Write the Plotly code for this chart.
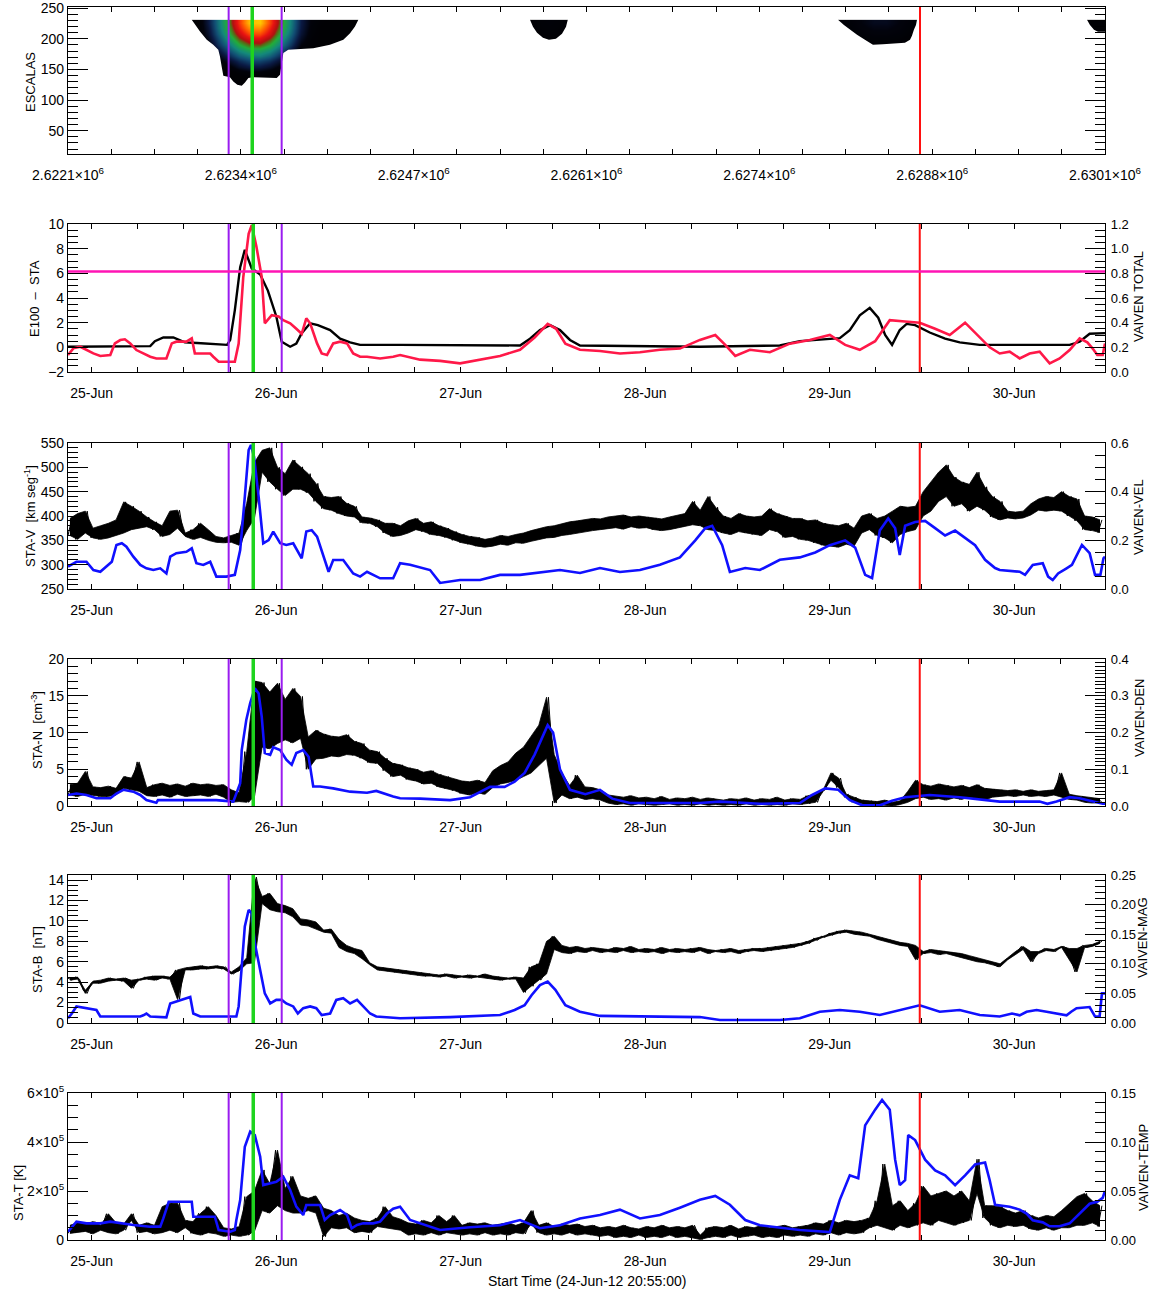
import numpy as np
import pandas as pd
import plotly.graph_objects as go

# ---------------------------------------------------------------- time base
START = pd.Timestamp("2012-06-24 20:55:00")
END_HOURS = 134.9
NOISY_STEP_H = 0.5

# event markers (hours after start) and their position on the scale-axis units
EVENT_HOURS = {"purple": [20.9, 27.8], "green": [24.1], "red": [110.8]}
EVENT_TOP = {"purple": [2623321, 2623730], "green": [2623503], "red": [2628657]}
E_THRESHOLD = 6.15

# ---------------------------------------------------------------- wavelet panel
TOP_X_RANGE = [2622081, 2630085]
TOP_X_TICKS = [2622081, 2623415, 2624749, 2626083, 2627417, 2628751, 2630085]
TOP_X_LABELS = ["2.6221×10<sup>6</sup>", "2.6234×10<sup>6</sup>", "2.6247×10<sup>6</sup>",
                "2.6261×10<sup>6</sup>", "2.6274×10<sup>6</sup>", "2.6288×10<sup>6</sup>",
                "2.6301×10<sup>6</sup>"]
SCALE_TOP = 231.0

BLOB1_X = [2623000, 2623080, 2623160, 2623240, 2623320, 2623400, 2623480, 2623560, 2623640,
           2623720, 2623800, 2623880, 2623960, 2624040, 2624120, 2624200, 2624280, 2624360]
BLOB1_S = [118.5, 127.5, 136.5, 145.5, 154.5, 163.5, 172.5, 181.5, 190.5, 199.5, 208.5, 217.5, 226.5]
_k = 0.03
BLOB1_P = [
    [_k] * 18,
    [_k] * 18,
    [_k] * 18,
    [_k, _k, _k, _k, _k, 0.06, 0.09, 0.09, 0.06, _k, _k, _k, _k, _k, _k, _k, _k, _k],
    [_k, _k, _k, _k, 0.07, 0.15, 0.19, 0.19, 0.15, 0.08, _k, _k, _k, _k, _k, _k, _k, _k],
    [_k, _k, _k, 0.05, 0.15, 0.23, 0.28, 0.28, 0.24, 0.16, 0.06, _k, _k, _k, _k, _k, _k, _k],
    [_k, _k, _k, 0.11, 0.23, 0.32, 0.37, 0.38, 0.33, 0.24, 0.13, _k, _k, _k, _k, _k, _k, _k],
    [_k, _k, _k, 0.18, 0.31, 0.41, 0.47, 0.47, 0.42, 0.32, 0.19, 0.05, _k, _k, _k, _k, _k, _k],
    [_k, _k, 0.08, 0.24, 0.37, 0.49, 0.56, 0.57, 0.50, 0.39, 0.25, 0.10, 0.04, _k, _k, _k, _k, _k],
    [_k, _k, 0.12, 0.28, 0.44, 0.57, 0.65, 0.66, 0.58, 0.45, 0.30, 0.14, 0.05, _k, _k, _k, _k, _k],
    [_k, _k, 0.15, 0.32, 0.49, 0.63, 0.74, 0.75, 0.65, 0.50, 0.34, 0.17, 0.06, _k, _k, _k, _k, _k],
    [_k, _k, 0.17, 0.35, 0.52, 0.69, 0.83, 0.84, 0.70, 0.54, 0.37, 0.19, 0.07, _k, _k, _k, _k, _k],
    [_k, _k, 0.19, 0.36, 0.54, 0.72, 0.89, 0.91, 0.74, 0.56, 0.38, 0.20, 0.08, 0.04, _k, _k, _k, _k],
]
BLOB2_X = [2625600, 2625700, 2625800, 2625900, 2626000]
BLOB2_S = [190.5, 199.5, 208.5, 217.5, 226.5]
BLOB2_P = [[0.03, 0.03, 0.03, 0.03, 0.03],
           [0.03, 0.03, 0.04, 0.03, 0.03],
           [0.03, 0.04, 0.05, 0.04, 0.03],
           [0.03, 0.05, 0.06, 0.05, 0.03],
           [0.03, 0.05, 0.07, 0.05, 0.03]]
BLOB3_X = [2628000, 2628100, 2628200, 2628300, 2628400, 2628500, 2628600, 2628700]
BLOB3_S = [181.5, 190.5, 199.5, 208.5, 217.5, 226.5]
BLOB3_P = [[0.03, 0.03, 0.03, 0.03, 0.03, 0.03, 0.03, 0.03],
           [0.03, 0.03, 0.04, 0.04, 0.04, 0.04, 0.03, 0.03],
           [0.03, 0.03, 0.05, 0.06, 0.06, 0.05, 0.03, 0.03],
           [0.03, 0.04, 0.07, 0.09, 0.09, 0.07, 0.04, 0.03],
           [0.03, 0.05, 0.09, 0.11, 0.11, 0.09, 0.05, 0.03],
           [0.03, 0.06, 0.10, 0.13, 0.13, 0.10, 0.06, 0.03]]
BLOB4_X = [2629950, 2630050, 2630150]
BLOB4_S = [208.5, 217.5, 226.5]
BLOB4_P = [[0.03, 0.03, 0.03], [0.03, 0.04, 0.04], [0.03, 0.04, 0.05]]

# lower edges of the significant regions (scale units), left to right
EDGE1_X = [2623036, 2623061, 2623100, 2623152, 2623202, 2623241, 2623254, 2623267, 2623280,
           2623331, 2623357, 2623388, 2623422, 2623447, 2623473, 2623509, 2623615, 2623692,
           2623717, 2623730, 2623743, 2623781, 2623872, 2623974, 2624103, 2624206, 2624258,
           2624296, 2624322]
EDGE1_S = [231.0, 222.8, 211.9, 198.4, 190.2, 182.1, 171.1, 154.8, 139.6, 137.5, 130.3, 125.0,
           123.3, 128.7, 135.9, 137.5, 136.9, 135.9, 141.3, 163.0, 176.7, 182.1, 183.7, 184.8,
           190.2, 198.4, 209.3, 220.1, 231.0]
EDGE2_X = [2625647, 2625670, 2625701, 2625747, 2625793, 2625847, 2625894, 2625925, 2625940]
EDGE2_S = [231.0, 219.6, 209.8, 201.6, 198.4, 200.0, 208.2, 219.6, 231.0]
EDGE3_X = [2628024, 2628070, 2628117, 2628171, 2628232, 2628294, 2628371, 2628464, 2628541,
           2628580, 2628595, 2628610, 2628626, 2628634]
EDGE3_S = [231.0, 222.8, 214.7, 206.5, 198.4, 190.2, 191.0, 191.8, 193.5, 198.4, 204.9, 214.7,
           222.8, 231.0]
EDGE4_X = [2629946, 2629969, 2630000, 2630031, 2630185]
EDGE4_S = [231.0, 222.8, 214.7, 211.4, 211.4]

# ---------------------------------------------------------------- E100 / VAIVEN TOTAL
E_HOURS = [0, 4.2, 10.7, 11.3, 12.4, 13.7, 15.2, 16.8, 20.7, 21.1, 21.7, 22.4, 23.0, 23.9, 25.0,
           26.0, 27.1, 27.8, 28.9, 29.7, 30.4, 31.5, 32.5, 34.1, 35.4, 36.7, 38.0, 43.2, 58.8,
           60.1, 61.4, 62.7, 64.0, 65.3, 66.6, 82.2, 92.6, 95.2, 97.8, 100.4, 101.7, 103.0,
           104.3, 105.4, 106.3, 107.2, 108.2, 109.1, 110.2, 112.1, 114.1, 116.0, 118.6, 130.3,
           131.6, 132.9, 134.9]
E_VALUES = [0.05, 0.05, 0.1, 0.5, 0.8, 0.8, 0.4, 0.35, 0.2, 0.6, 3.0, 6.5, 7.9, 6.4, 5.9, 4.6,
            2.5, 0.45, 0.05, 0.3, 1.15, 1.95, 1.8, 1.4, 0.7, 0.4, 0.2, 0.2, 0.15, 0.7, 1.4, 1.8,
            1.4, 0.6, 0.15, 0.05, 0.15, 0.5, 0.65, 0.75, 1.4, 2.6, 3.2, 2.4, 1.0, 0.2, 1.4, 1.9,
            1.8, 1.2, 0.7, 0.4, 0.2, 0.2, 0.45, 1.1, 1.15]
TOT_HOURS = [0.0, 0.7, 1.6, 2.4, 3.3, 4.2, 5.5, 6.1, 6.8, 7.4, 8.1, 8.9, 9.8, 10.7, 11.5, 12.8,
             13.5, 14.1, 15.4, 16.1, 16.5, 18.5, 18.9, 19.6, 21.7, 22.2, 22.8, 23.5, 23.9, 24.5,
             25.2, 25.6, 26.5, 27.4, 28.0, 28.9, 29.7, 30.4, 31.0, 31.5, 32.4, 33.0, 33.7, 34.5,
             35.4, 36.3, 37.1, 38.0, 38.9, 40.6, 42.3, 43.2, 45.8, 48.4, 51.0, 53.6, 56.2, 58.8,
             60.7, 62.4, 63.5, 64.7, 66.6, 69.2, 71.8, 74.4, 77.0, 79.6, 82.2, 84.2, 85.5, 86.8,
             88.7, 91.3, 93.9, 96.5, 99.1, 101.1, 103.0, 105.0, 106.9, 108.9, 110.8, 112.8,
             114.7, 116.7, 118.0, 119.9, 121.2, 122.5, 123.8, 125.1, 126.4, 127.7, 129.0, 130.3,
             131.6, 132.6, 133.3, 133.9, 134.6, 134.9]
TOT_VALUES = [0.138, 0.192, 0.205, 0.178, 0.151, 0.13, 0.138, 0.232, 0.259, 0.265,
              0.232, 0.178, 0.151, 0.124, 0.11, 0.11, 0.232, 0.246, 0.246, 0.273,
              0.151, 0.15, 0.124, 0.083, 0.083, 0.23, 0.77, 1.12, 1.19, 1.02,
              0.77, 0.395, 0.46, 0.45, 0.42, 0.395, 0.35, 0.31, 0.435, 0.395,
              0.232, 0.151, 0.138, 0.232, 0.246, 0.232, 0.151, 0.124, 0.124, 0.11,
              0.124, 0.138, 0.10, 0.09, 0.07, 0.10, 0.13, 0.18, 0.28, 0.39,
              0.35, 0.23, 0.18, 0.17, 0.15, 0.16, 0.18, 0.19, 0.26, 0.30,
              0.22, 0.13, 0.18, 0.16, 0.23, 0.26, 0.30, 0.22, 0.18, 0.25,
              0.42, 0.41, 0.40, 0.35, 0.30, 0.40, 0.32, 0.20, 0.15, 0.165,
              0.11, 0.15, 0.165, 0.07, 0.11, 0.178, 0.273, 0.24, 0.19, 0.138,
              0.138, 0.232]

# ---------------------------------------------------------------- velocity
V_KMS = [360, 395, 352, 405, 365, 410, 355, 375, 352, 380,
         355, 385, 360, 392, 365, 429, 372, 420, 375, 410,
         378, 398, 372, 388, 358, 380, 362, 410, 375, 412,
         365, 358, 372, 352, 385, 356, 372, 350, 358, 346,
         355, 345, 360, 346, 365, 340, 370, 426, 395, 510,
         490, 535, 470, 540, 455, 500, 442, 487, 455, 515,
         455, 501, 448, 487, 430, 467, 415, 440, 412, 438,
         405, 440, 400, 426, 398, 420, 386, 398, 385, 396,
         378, 392, 365, 385, 358, 385, 360, 380, 365, 390,
         372, 395, 368, 385, 362, 388, 360, 380, 356, 375,
         350, 368, 345, 362, 342, 358, 338, 356, 336, 352,
         338, 355, 342, 360, 340, 358, 345, 362, 344, 365,
         348, 370, 352, 374, 355, 378, 356, 380, 360, 384,
         362, 388, 365, 390, 368, 392, 370, 395, 372, 394,
         374, 398, 376, 400, 373, 402, 378, 398, 375, 400,
         376, 398, 372, 396, 370, 394, 372, 398, 375, 402,
         378, 405, 382, 430, 380, 412, 372, 440, 370, 418,
         365, 400, 362, 395, 368, 405, 365, 400, 362, 398,
         360, 400, 372, 415, 368, 405, 356, 400, 358, 395,
         352, 395, 350, 390, 345, 392, 340, 385, 338, 382,
         336, 380, 342, 385, 338, 375, 365, 400, 372, 405,
         360, 395, 355, 400, 345, 410, 362, 420, 368, 418,
         372, 420, 400, 450, 410, 470, 430, 490, 440, 505,
         420, 480, 425, 470, 410, 465, 420, 490, 412, 460,
         398, 440, 392, 430, 396, 410, 394, 408, 396, 410,
         402, 425, 412, 435, 410, 440, 412, 438, 410, 450,
         400, 440, 390, 435, 372, 400, 370, 398, 366, 392]
VEL_HOURS = [0.0, 1.1, 2.4, 3.3, 4.2, 5.0, 5.7, 6.3, 7.0, 7.6,
             8.5, 9.4, 10.2, 11.1, 12.0, 12.8, 13.3, 14.1, 15.4, 16.1,
             16.7, 17.6, 18.5, 19.3, 20.6, 21.7, 22.4, 23.0, 23.5, 23.8,
             24.2, 24.8, 25.4, 26.1, 26.7, 27.6, 28.4, 29.3, 30.4, 31.0,
             31.7, 32.4, 33.2, 33.9, 34.5, 35.8, 37.1, 38.0, 38.9, 40.6,
             42.3, 43.2, 44.5, 47.1, 48.4, 51.0, 53.6, 56.2, 58.8, 64.0,
             66.6, 69.2, 71.8, 74.4, 77.0, 79.6, 81.6, 82.9, 83.8, 85.1,
             86.1, 88.1, 90.0, 92.6, 95.2, 97.2, 99.1, 101.1, 102.4, 103.7,
             104.6, 105.6, 106.7, 107.6, 108.2, 108.9, 110.2, 111.5, 112.8, 114.1,
             115.4, 116.7, 118.0, 119.3, 120.6, 121.2, 123.8, 124.5, 125.5, 126.8,
             127.5, 128.1, 128.8, 129.9, 130.6, 131.9, 132.9, 133.6, 134.3, 134.7,
             134.9]
VEL_VALUES = [0.092, 0.112, 0.112, 0.078, 0.071, 0.092, 0.112, 0.181, 0.188, 0.174,
              0.133, 0.099, 0.085, 0.078, 0.085, 0.064, 0.133, 0.147, 0.153, 0.167,
              0.106, 0.099, 0.112, 0.051, 0.051, 0.058, 0.160, 0.379, 0.571, 0.592,
              0.544, 0.379, 0.188, 0.201, 0.236, 0.188, 0.181, 0.188, 0.126, 0.236,
              0.242, 0.215, 0.133, 0.071, 0.119, 0.119, 0.064, 0.051, 0.071, 0.044,
              0.044, 0.106, 0.10, 0.078, 0.025, 0.037, 0.037, 0.058, 0.058, 0.078,
              0.066, 0.086, 0.07, 0.078, 0.10, 0.13, 0.20, 0.25, 0.26, 0.18,
              0.07, 0.086, 0.078, 0.12, 0.13, 0.15, 0.18, 0.20, 0.17, 0.058,
              0.045, 0.24, 0.29, 0.25, 0.14, 0.26, 0.275, 0.28, 0.25, 0.22,
              0.24, 0.21, 0.18, 0.12, 0.086, 0.078, 0.071, 0.058, 0.099, 0.106,
              0.051, 0.037, 0.064, 0.085, 0.099, 0.181, 0.147, 0.058, 0.058, 0.126,
              0.133]

# ---------------------------------------------------------------- density
N_CM3 = [1.5, 2.9, 1.3, 3.1, 1.6, 4.7, 1.4, 2.6, 1.3, 2.5,
         1.3, 2.7, 1.5, 2.4, 2.4, 4.0, 2.2, 3.8, 6.0, 2.0,
         2.5, 1.4, 2.9, 1.3, 3.1, 1.5, 2.8, 1.2, 3.0, 1.6,
         2.7, 1.3, 3.1, 1.4, 2.9, 1.5, 3.0, 1.3, 2.8, 1.6,
         2.9, 1.2, 2.2, 0.5, 1.8, 0.6, 7.4, 0.5, 1.2, 17.0,
         8.0, 16.8, 7.8, 15.5, 8.5, 16.7, 9.0, 14.5, 8.6, 16.0,
         9.2, 14.9, 5.0, 9.4, 6.4, 10.3, 6.5, 9.8, 6.8, 9.5,
         6.7, 9.4, 7.0, 9.7, 6.9, 8.8, 6.5, 8.5, 5.9, 7.6,
         5.8, 7.4, 4.8, 6.5, 4.0, 5.8, 4.2, 5.6, 3.6, 5.2,
         3.4, 5.0, 3.0, 4.6, 3.1, 4.8, 2.6, 4.3, 2.4, 4.0,
         2.1, 3.6, 1.7, 3.4, 1.5, 3.3, 1.8, 3.5, 1.6, 3.2,
         2.5, 4.8, 3.0, 5.5, 3.2, 6.0, 3.5, 7.2, 4.0, 8.0,
         4.5, 9.5, 5.5, 11.0, 6.5, 14.8, 7.0, 0.4, 4.5, 1.5,
         2.8, 1.0, 4.2, 1.2, 2.6, 0.9, 2.5, 1.0, 2.2, 0.8,
         1.5, 0.4, 1.3, 0.2, 1.2, 0.3, 1.4, 0.1, 1.1, 0.3,
         1.2, 0.2, 1.0, 0.1, 1.3, 0.2, 0.9, 0.3, 1.1, 0.1,
         1.0, 0.2, 1.2, 0.1, 0.9, 0.3, 1.1, 0.1, 1.0, 0.2,
         0.8, 0.1, 1.0, 0.2, 0.9, 0.1, 1.1, 0.3, 0.8, 0.1,
         1.0, 0.2, 0.9, 0.1, 1.2, 0.2, 0.8, 0.1, 1.0, 0.3,
         0.9, 0.2, 1.4, 0.3, 1.6, 0.5, 2.0, 2.2, 3.5, 4.5,
         2.5, 3.8, 1.2, 1.6, 0.5, 1.2, 0.3, 0.8, 0.1, 0.7,
         0.2, 0.6, 0.1, 0.8, 0.0, 0.5, 0.2, 0.7, 0.5, 2.0,
         1.0, 3.5, 1.2, 2.9, 0.9, 2.7, 1.0, 3.0, 0.8, 2.8,
         1.1, 2.6, 0.9, 2.8, 1.2, 2.5, 1.0, 2.9, 0.8, 2.4,
         1.2, 2.3, 1.3, 2.2, 1.4, 2.1, 1.3, 2.2, 1.5, 2.0,
         1.3, 2.2, 1.4, 2.0, 1.3, 2.1, 1.5, 2.2, 4.5, 1.2,
         1.6, 0.9, 1.4, 0.8, 1.3, 0.5, 1.1, 0.4, 1.0, 0.5]
DEN_HOURS = [0.0, 1.1, 2.4, 3.7, 5.5, 6.3, 7.2, 8.5, 9.4, 10.2,
             11.5, 11.7, 12.8, 19.3, 21.5, 21.9, 22.4, 22.6, 23.2, 23.7,
             24.3, 24.8, 25.2, 25.6, 26.3, 26.7, 27.6, 28.4, 29.1, 29.7,
             30.6, 31.3, 31.9, 32.8, 34.5, 36.7, 38.9, 40.1, 41.0, 42.3,
             43.2, 45.8, 49.7, 52.3, 54.9, 56.8, 58.1, 59.4, 60.7, 61.7,
             62.4, 63.1, 64.0, 65.3, 67.3, 69.2, 70.8, 73.1, 82.2, 84.8,
             90.0, 95.2, 96.8, 98.5, 100.2, 101.7, 103.3, 105.6, 107.2, 108.9,
             112.1, 116.0, 121.2, 126.4, 127.4, 128.6, 130.3, 131.6, 132.6, 133.9,
             134.6, 134.9]
DEN_VALUES = [0.030, 0.034, 0.030, 0.021, 0.021, 0.034, 0.044, 0.039, 0.030, 0.016,
              0.009, 0.016, 0.016, 0.016, 0.012, 0.034, 0.062, 0.152, 0.235, 0.28,
              0.32, 0.306, 0.243, 0.144, 0.139, 0.16, 0.152, 0.126, 0.112, 0.144,
              0.152, 0.134, 0.053, 0.053, 0.048, 0.039, 0.036, 0.041, 0.034, 0.026,
              0.021, 0.02, 0.016, 0.024, 0.052, 0.052, 0.066, 0.09, 0.14, 0.19,
              0.22, 0.20, 0.10, 0.044, 0.032, 0.044, 0.02, 0.008, 0.008, 0.012,
              0.006, 0.008, 0.03, 0.048, 0.044, 0.016, 0.002, 0.002, 0.014, 0.024,
              0.03, 0.024, 0.012, 0.012, 0.006, 0.012, 0.024, 0.021, 0.016, 0.008,
              0.006, 0.006]

# ---------------------------------------------------------------- magnetic field
B_NT = [4.4, 4.2, 4.5, 4.3, 3.2, 2.9, 3.9, 4.1, 3.9, 4.2,
        4.1, 4.4, 4.2, 4.3, 4.1, 4.4, 4.2, 3.4, 4.3, 4.2,
        4.5, 4.3, 4.6, 4.2, 4.4, 4.6, 4.3, 4.5, 5.2, 2.3,
        5.2, 5.4, 5.2, 5.5, 5.3, 5.6, 5.3, 5.5, 5.4, 5.6,
        5.3, 5.5, 5.0, 4.8, 5.1, 5.5, 5.8, 6.4, 5.9, 14.3,
        12.4, 11.7, 12.7, 11.1, 11.7, 10.9, 11.5, 10.8, 11.2, 10.4,
        10.2, 9.6, 10.1, 9.5, 9.9, 9.2, 9.1, 8.9, 9.2, 8.8,
        8.2, 7.4, 7.6, 7.0, 7.3, 6.8, 7.1, 6.3, 5.9, 5.7,
        5.5, 5.2, 5.4, 5.1, 5.3, 5.0, 5.2, 4.9, 5.1, 4.8,
        5.0, 4.7, 4.9, 4.6, 4.8, 4.6, 4.7, 4.5, 4.8, 4.6,
        4.7, 4.4, 4.6, 4.5, 4.7, 4.4, 4.6, 4.5, 4.8, 4.4,
        4.6, 4.3, 4.5, 4.2, 4.4, 4.3, 4.5, 4.3, 4.4, 3.0,
        5.5, 3.6, 5.8, 4.2, 4.8, 8.0, 8.5, 7.2, 7.6, 6.9,
        7.4, 6.8, 7.5, 7.0, 7.3, 6.9, 7.4, 7.1, 7.3, 6.9,
        7.2, 7.0, 7.4, 6.9, 7.3, 7.1, 7.5, 6.9, 7.2, 7.0,
        7.3, 6.9, 7.2, 7.0, 7.4, 6.8, 7.2, 7.0, 7.3, 6.9,
        7.2, 7.0, 7.3, 6.9, 7.4, 7.1, 7.2, 6.8, 7.1, 7.0,
        7.2, 6.9, 7.3, 7.0, 7.1, 6.8, 7.2, 7.0, 7.3, 7.1,
        7.3, 7.0, 7.4, 7.1, 7.5, 7.2, 7.6, 7.3, 7.7, 7.4,
        7.8, 7.6, 8.0, 7.8, 8.3, 8.1, 8.5, 8.4, 8.8, 8.6,
        9.0, 8.8, 9.1, 8.9, 9.0, 8.7, 8.9, 8.6, 8.7, 8.5,
        8.5, 8.2, 8.3, 8.0, 8.1, 7.8, 7.9, 7.6, 7.8, 7.5,
        7.6, 6.2, 7.0, 6.8, 7.2, 6.9, 7.1, 6.7, 7.0, 6.8,
        6.9, 6.6, 6.8, 6.4, 6.6, 6.2, 6.4, 6.0, 6.2, 5.9,
        6.0, 5.7, 5.5, 5.8, 6.2, 6.4, 6.7, 7.0, 7.5, 7.2,
        7.0, 6.0, 6.8, 7.0, 7.3, 7.1, 7.2, 7.0, 7.4, 7.5,
        7.3, 6.2, 5.0, 7.3, 7.6, 7.4, 7.5, 7.7, 7.8, 8.0]
MAG_HOURS = [0.0, 0.5, 1.1, 2.4, 3.7, 4.2, 9.4, 9.8, 10.2, 10.7,
             12.8, 13.3, 14.6, 15.9, 16.3, 17.2, 21.9, 22.2, 22.6, 23.0,
             23.5, 23.9, 24.3, 25.0, 25.6, 26.3, 27.1, 27.8, 28.4, 29.3,
             29.9, 30.6, 31.5, 32.3, 33.0, 34.1, 34.9, 35.8, 36.7, 37.6,
             38.4, 39.3, 40.1, 43.2, 49.7, 56.2, 58.1, 59.4, 60.3, 61.4,
             62.4, 63.4, 64.7, 66.6, 69.2, 82.2, 84.8, 92.6, 95.2, 97.8,
             100.4, 103.0, 105.6, 108.2, 110.8, 113.4, 116.0, 118.6, 121.2, 122.8,
             123.8, 124.7, 126.0, 127.3, 128.6, 129.9, 130.5, 131.2, 132.9, 133.6,
             134.2, 134.5, 134.9]
MAG_VALUES = [0.008, 0.016, 0.028, 0.025, 0.022, 0.011, 0.011, 0.013, 0.016, 0.011,
              0.0096, 0.033, 0.039, 0.044, 0.016, 0.011, 0.011, 0.028, 0.095, 0.163,
              0.191, 0.185, 0.135, 0.09, 0.05, 0.033, 0.039, 0.039, 0.033, 0.028,
              0.016, 0.025, 0.028, 0.025, 0.0135, 0.016, 0.039, 0.042, 0.033, 0.039,
              0.028, 0.016, 0.011, 0.008, 0.01, 0.0135, 0.022, 0.03, 0.047, 0.064,
              0.07, 0.056, 0.03, 0.019, 0.012, 0.01, 0.005, 0.005, 0.008, 0.019,
              0.022, 0.019, 0.0135, 0.022, 0.03, 0.019, 0.022, 0.0135, 0.011, 0.016,
              0.013, 0.019, 0.022, 0.019, 0.016, 0.013, 0.019, 0.025, 0.027, 0.011,
              0.011, 0.05, 0.05]

# ---------------------------------------------------------------- temperature (1e5 K)
T_E5K = [0.27, 0.6, 0.3, 0.7, 0.35, 0.65, 0.25, 0.75, 0.4, 0.6,
         1.07, 0.3, 0.7, 0.25, 0.65, 0.4, 0.8, 1.07, 0.3, 0.6,
         0.35, 0.7, 0.25, 0.6, 0.3, 1.36, 0.4, 1.5, 0.3, 1.5,
         0.5, 0.8, 0.27, 0.75, 1.09, 0.2, 1.36, 0.3, 1.0, 0.25,
         0.5, 0.15, 0.45, 0.2, 0.54, 0.15, 1.77, 0.2, 0.35, 2.0,
         1.2, 2.86, 1.1, 2.3, 3.67, 1.4, 2.1, 1.2, 2.6, 1.1,
         1.8, 1.1, 1.7, 1.2, 1.8, 1.1, 1.3, 0.14, 1.2, 0.5,
         1.0, 0.45, 1.09, 0.5, 0.9, 0.3, 0.8, 0.35, 0.75, 0.3,
         0.9, 0.55, 1.36, 0.5, 0.95, 0.45, 0.85, 0.4, 0.7, 0.2,
         0.65, 0.25, 0.8, 0.2, 0.7, 0.3, 1.0, 0.2, 0.75, 0.3,
         1.0, 0.25, 0.6, 0.2, 0.7, 0.25, 0.65, 0.2, 0.7, 0.3,
         0.6, 0.2, 0.65, 0.25, 0.7, 0.2, 0.6, 0.3, 0.7, 0.25,
         0.65, 1.2, 0.3, 0.6, 0.2, 0.7, 0.25, 0.55, 0.2, 0.65,
         0.3, 0.6, 0.2, 0.65, 0.25, 0.55, 0.2, 0.6, 0.15, 0.5,
         0.2, 0.55, 0.1, 0.5, 0.15, 0.6, 0.1, 0.5, 0.2, 0.45,
         0.1, 0.55, 0.15, 0.5, 0.1, 0.6, 0.2, 0.5, 0.1, 0.55,
         0.15, 0.5, 0.1, 0.6, 0.2, 0.02, 0.5, 0.1, 0.55, 0.15,
         0.5, 0.1, 0.6, 0.2, 0.45, 0.1, 0.55, 0.15, 0.5, 0.2,
         0.6, 0.1, 0.5, 0.15, 0.55, 0.1, 0.6, 0.2, 0.5, 0.15,
         0.55, 0.2, 0.6, 0.15, 0.7, 0.25, 0.65, 0.2, 0.8, 0.3,
         0.7, 0.2, 0.8, 0.3, 0.75, 0.25, 0.8, 0.3, 0.9, 0.5,
         1.6, 0.6, 3.1, 0.5, 1.4, 0.4, 1.6, 0.6, 1.2, 0.5,
         1.5, 0.6, 2.2, 0.7, 1.8, 0.6, 1.9, 0.8, 2.0, 0.7,
         1.8, 0.6, 2.0, 0.7, 1.6, 0.8, 1.9, 3.3, 0.9, 1.4,
         0.6, 1.4, 0.5, 1.36, 0.6, 1.2, 0.55, 1.1, 0.6, 1.2,
         0.45, 1.0, 0.4, 0.9, 0.5, 1.0, 0.4, 0.95, 0.5, 1.2,
         0.5, 1.5, 0.6, 1.77, 0.6, 1.9, 0.7, 1.6, 0.55, 1.4]
TEMP_HOURS = [0.0, 0.5, 1.1, 2.4, 4.2, 5.5, 6.8, 8.5, 10.7, 12.0,
              12.4, 13.1, 16.1, 16.3, 19.1, 19.6, 21.1, 21.7, 21.9, 22.4,
              23.0, 23.7, 24.3, 25.0, 25.4, 26.3, 27.1, 28.0, 28.9, 29.7,
              30.6, 31.0, 32.8, 33.4, 34.1, 35.4, 36.3, 36.9, 37.6, 38.4,
              39.7, 40.6, 41.5, 42.3, 43.2, 44.5, 48.4, 52.3, 56.2, 58.8,
              61.4, 64.0, 66.6, 69.2, 71.8, 74.4, 77.0, 79.6, 82.2, 84.2,
              86.1, 88.1, 90.0, 95.2, 99.1, 100.4, 101.7, 102.8, 103.7, 105.0,
              105.9, 106.9, 107.6, 108.2, 108.9, 109.3, 110.2, 111.5, 112.8, 114.1,
              115.4, 116.7, 118.0, 119.3, 119.9, 120.6, 122.5, 123.8, 124.7, 125.5,
              126.8, 127.7, 129.0, 130.3, 131.2, 132.0, 132.9, 133.9, 134.6, 134.9]
TEMP_VALUES = [0.0085, 0.0136, 0.0187, 0.017, 0.017, 0.0187, 0.017, 0.0153, 0.0136, 0.0136,
               0.022, 0.039, 0.039, 0.0238, 0.0238, 0.0102, 0.0085, 0.0102, 0.0204, 0.0408,
               0.0952, 0.1105, 0.107, 0.085, 0.056, 0.058, 0.0595, 0.0646, 0.051, 0.034,
               0.0255, 0.0357, 0.0357, 0.0204, 0.0255, 0.0306, 0.0255, 0.0119, 0.0153, 0.017,
               0.017, 0.0187, 0.027, 0.032, 0.034, 0.0204, 0.0102, 0.013, 0.015, 0.0204,
               0.012, 0.015, 0.022, 0.0255, 0.031, 0.022, 0.0255, 0.033, 0.041, 0.045,
               0.036, 0.0204, 0.015, 0.0102, 0.008, 0.041, 0.066, 0.063, 0.117, 0.133,
               0.143, 0.133, 0.082, 0.056, 0.061, 0.107, 0.102, 0.082, 0.071, 0.066,
               0.056, 0.066, 0.077, 0.079, 0.061, 0.036, 0.034, 0.031, 0.027, 0.02,
               0.018, 0.014, 0.014, 0.017, 0.024, 0.031, 0.037, 0.039, 0.043, 0.05]

# ================================================================ figure
W, H = 1151, 1291
FONT = "Liberation Sans"
PX_LEFT, PX_RIGHT = 68, 1105
PANEL_PX = [(7, 154), (224, 372), (443, 589), (659, 806), (875, 1023), (1093, 1240)]
XDOM = [PX_LEFT / W, PX_RIGHT / W]
COL = {"purple": "#9a1cf0", "green": "#1ed41e", "red": "#ff1010"}
EVENT_W = {"purple": 2, "green": 3.5, "red": 2}
BLUE = "#1010ff"
CRIMSON = "#ff1848"
MAGENTA = "#ff14b4"

POWER_SCALE = [[0.0, "#000000"], [0.10, "#02030c"], [0.20, "#0b1a44"], [0.30, "#124e74"],
               [0.40, "#14887c"], [0.50, "#22ac3a"], [0.56, "#5a6a14"], [0.60, "#b01010"],
               [0.68, "#e81212"], [0.77, "#ff5a00"], [0.86, "#ffa400"], [0.95, "#ffe400"],
               [1.0, "#fff000"]]


def ydom(top, bot):
    return [1 - bot / H, 1 - top / H]


def at_hours(hours):
    return START + pd.to_timedelta(np.asarray(hours, dtype=float), unit="h")


def noisy_times(values):
    return at_hours(np.arange(len(values)) * NOISY_STEP_H)


END = START + pd.Timedelta(hours=END_HOURS)
fig = go.Figure()

# ---- panel 1: scalogram
for bx, bs, bp in [(BLOB1_X, BLOB1_S, BLOB1_P), (BLOB2_X, BLOB2_S, BLOB2_P),
                   (BLOB3_X, BLOB3_S, BLOB3_P), (BLOB4_X, BLOB4_S, BLOB4_P)]:
    fig.add_trace(go.Heatmap(x=bx, y=bs, z=bp, zmin=0, zmax=1, colorscale=POWER_SCALE,
                             zsmooth="best", showscale=False, hoverinfo="skip",
                             xaxis="x", yaxis="y"))

# white cover outside the significant regions; its top runs a little above the
# heatmap edge so no seam shows between the regions
SEAM = SCALE_TOP + 1.5
mask_x, mask_y = [TOP_X_RANGE[0] - 100], [SEAM]
for ex, es in [(EDGE1_X, EDGE1_S), (EDGE2_X, EDGE2_S), (EDGE3_X, EDGE3_S), (EDGE4_X, EDGE4_S)]:
    mask_x += [ex[0]] + ex
    mask_y += [SEAM] + es
    if es[-1] >= SCALE_TOP:
        mask_x.append(ex[-1])
        mask_y.append(SEAM)
mask_x += [TOP_X_RANGE[1] + 100, TOP_X_RANGE[1] + 100, TOP_X_RANGE[0] - 100]
mask_y += [EDGE4_S[-1], 0, 0]
fig.add_trace(go.Scatter(x=mask_x, y=mask_y, mode="lines", fill="toself", fillcolor="white",
                         line=dict(width=0, color="white"), hoverinfo="skip",
                         xaxis="x", yaxis="y"))


def add_noisy(values, scale, k, yl, lw):
    """High-rate record: min/max band of each sample pair plus the raw trace."""
    v = np.asarray(values, dtype=float) * scale
    pairs = v[: len(v) // 2 * 2].reshape(-1, 2)
    tc = at_hours((np.arange(len(pairs)) * 2 + 0.5) * NOISY_STEP_H)
    fig.add_trace(go.Scatter(x=tc, y=pairs.max(axis=1), mode="lines",
                             line=dict(color="black", width=0.8),
                             xaxis=f"x{k}", yaxis=f"y{yl}", hoverinfo="skip"))
    fig.add_trace(go.Scatter(x=tc, y=pairs.min(axis=1), mode="lines", fill="tonexty",
                             fillcolor="black", line=dict(color="black", width=0.8),
                             xaxis=f"x{k}", yaxis=f"y{yl}", hoverinfo="skip"))
    fig.add_trace(go.Scatter(x=noisy_times(values), y=v, mode="lines",
                             line=dict(color="black", width=lw),
                             xaxis=f"x{k}", yaxis=f"y{yl}", hoverinfo="skip"))


# ---- panel 2: smooth E100 + VAIVEN TOTAL
fig.add_trace(go.Scatter(x=at_hours(E_HOURS), y=E_VALUES, mode="lines",
                         line=dict(color="black", width=2.4), xaxis="x2", yaxis="y2",
                         hoverinfo="skip"))
fig.add_trace(go.Scatter(x=at_hours(TOT_HOURS), y=TOT_VALUES, mode="lines",
                         line=dict(color=CRIMSON, width=2.6), xaxis="x2", yaxis="y3",
                         hoverinfo="skip"))

# ---- panels 3..6: noisy plasma record + VAIVEN index
noisy = [(V_KMS, 1.0, VEL_HOURS, VEL_VALUES), (N_CM3, 1.0, DEN_HOURS, DEN_VALUES),
         (B_NT, 1.0, MAG_HOURS, MAG_VALUES), (T_E5K, 1e5, TEMP_HOURS, TEMP_VALUES)]
for i, (vals, sc, rh, rv) in enumerate(noisy):
    k = i + 3
    yl, yr = 2 * k - 2, 2 * k - 1
    add_noisy(vals, sc, k, yl, 1.0)
    fig.add_trace(go.Scatter(x=at_hours(rh), y=rv, mode="lines", line=dict(color=BLUE, width=2.6),
                             xaxis=f"x{k}", yaxis=f"y{yr}", hoverinfo="skip"))

# ---- axes
TICKFONT = dict(family=FONT, size=14, color="black")
RIGHT_TICKFONT = dict(family=FONT, size=13, color="black")


def ax(**kw):
    base = dict(showgrid=False, zeroline=False, showline=True, linecolor="black",
                linewidth=1.2, ticks="inside", tickcolor="black", tickwidth=1,
                tickfont=TICKFONT, automargin=False)
    base.update(kw)
    return base


layout = dict(
    width=W, height=H, margin=dict(l=0, r=0, t=0, b=0, pad=0, autoexpand=False),
    showlegend=False, paper_bgcolor="white", plot_bgcolor="white",
    font=dict(family=FONT, size=14, color="black"),
)
layout["xaxis"] = ax(domain=XDOM, anchor="y", range=TOP_X_RANGE, tickvals=TOP_X_TICKS,
                     ticktext=TOP_X_LABELS, ticklen=5, mirror="ticks", ticklabelstandoff=8,
                     tickfont=dict(family=FONT, size=14, color="black"),
                     minor=dict(tick0=TOP_X_RANGE[0], dtick=333.5, ticks="inside",
                                ticklen=5, tickcolor="black"))
layout["yaxis"] = ax(domain=ydom(*PANEL_PX[0]), anchor="x", range=[12, 252],
                     tickvals=[50, 100, 150, 200, 250], ticklen=20, mirror="ticks",
                     minor=dict(dtick=10, tick0=0, ticks="inside", ticklen=10,
                                tickcolor="black"))

YSPEC = [
    (dict(range=[-2, 10], dtick=2, tick0=0, minor_dt=0.5),
     dict(range=[0, 1.2], dtick=0.2, tick0=0, minor_dt=0.05, fmt=".1f")),
    (dict(range=[250, 550], dtick=50, tick0=0, minor_dt=10),
     dict(range=[0, 0.6], dtick=0.2, tick0=0, minor_dt=0.05, fmt=".1f")),
    (dict(range=[0, 20], dtick=5, tick0=0, minor_dt=1),
     dict(range=[0, 0.4], dtick=0.1, tick0=0, minor_dt=0.01, fmt=".1f")),
    (dict(range=[0, 14.5], dtick=2, tick0=0, minor_dt=0.5),
     dict(range=[0, 0.25], dtick=0.05, tick0=0, minor_dt=0.01, fmt=".2f")),
    (dict(range=[0, 6e5], dtick=2e5, tick0=0, minor_dt=5e4,
          tickvals=[0, 2e5, 4e5, 6e5],
          ticktext=["0", "2×10<sup>5</sup>", "4×10<sup>5</sup>", "6×10<sup>5</sup>"]),
     dict(range=[0, 0.15], dtick=0.05, tick0=0, minor_dt=0.01, fmt=".2f")),
]

for i, (ls, rs) in enumerate(YSPEC):
    k = i + 2
    yl, yr = 2 * k - 2, 2 * k - 1
    top, bot = PANEL_PX[i + 1]
    layout[f"xaxis{k}"] = ax(domain=XDOM, anchor=f"y{yl}", type="date",
                             range=[START, END], dtick=86400000, tick0="2012-06-25",
                             tickformat="%d-%b", ticklen=5, mirror="ticks",
                             ticklabelstandoff=8,
                             minor=dict(dtick=21600000, ticks="inside", ticklen=5,
                                        tickcolor="black"))
    left = ax(domain=ydom(top, bot), anchor=f"x{k}", range=ls["range"], ticklen=20,
              mirror=True, minor=dict(dtick=ls["minor_dt"], tick0=0, ticks="inside",
                                      ticklen=10, tickcolor="black"))
    if "tickvals" in ls:
        left.update(tickvals=ls["tickvals"], ticktext=ls["ticktext"])
    else:
        left.update(dtick=ls["dtick"], tick0=ls["tick0"])
    layout[f"yaxis{yl}"] = left
    layout[f"yaxis{yr}"] = ax(overlaying=f"y{yl}", side="right", anchor=f"x{k}",
                              range=rs["range"], dtick=rs["dtick"], tick0=rs["tick0"],
                              tickformat=rs["fmt"], ticklen=20, tickfont=RIGHT_TICKFONT,
                              ticklabelstandoff=2,
                              minor=dict(dtick=rs["minor_dt"], tick0=0, ticks="inside",
                                         ticklen=10, tickcolor="black"))

# ---- event markers
shapes = []
for name in ["purple", "green", "red"]:
    for xv in EVENT_TOP[name]:
        shapes.append(dict(type="line", xref="x", yref="y domain", x0=xv, x1=xv, y0=0, y1=1,
                           line=dict(color=COL[name], width=EVENT_W[name]), layer="above"))
    for hv in EVENT_HOURS[name]:
        t = START + pd.Timedelta(hours=hv)
        for k in range(2, 7):
            shapes.append(dict(type="line", xref=f"x{k}", yref=f"y{2 * k - 2} domain",
                               x0=t, x1=t, y0=0, y1=1,
                               line=dict(color=COL[name], width=EVENT_W[name]),
                               layer="above"))
shapes.append(dict(type="line", xref="x2 domain", yref="y2", x0=0, x1=1,
                   y0=E_THRESHOLD, y1=E_THRESHOLD, line=dict(color=MAGENTA, width=2.4),
                   layer="above"))
layout["shapes"] = shapes

# ---- axis titles
NB = "\u00a0"
LEFT_TITLES = [("ESCALAS", 30, 82), (f"E100{NB}{NB}–{NB}{NB}STA", 35, 299),
               (f"STA-V{NB}{NB}[km{NB}seg<sup>-1</sup>]", 30, 516),
               (f"STA-N{NB}{NB}[cm<sup>-3</sup>]", 37, 730),
               (f"STA-B{NB}{NB}[nT]", 37, 960), (f"STA-T{NB}[K]", 18, 1193)]
RIGHT_TITLES = [(f"VAIVEN{NB}TOTAL", 1138, 297), ("VAIVEN-VEL", 1138, 517),
                ("VAIVEN-DEN", 1139, 718), ("VAIVEN-MAG", 1143, 938),
                ("VAIVEN-TEMP", 1143, 1168)]
ann = []
for txt, px, py in LEFT_TITLES + RIGHT_TITLES:
    ann.append(dict(text=txt, x=px / W, y=1 - py / H, xref="paper", yref="paper",
                    showarrow=False, textangle=-90, xanchor="center", yanchor="middle",
                    font=dict(family=FONT, size=13, color="black")))
ann.append(dict(text="Start Time (24-Jun-12 20:55:00)", x=587 / W, y=1 - 1281 / H,
                xref="paper", yref="paper", showarrow=False, xanchor="center",
                yanchor="middle", font=dict(family=FONT, size=14, color="black")))
layout["annotations"] = ann

fig.update_layout(**layout)
fig.write_html("out.html")
